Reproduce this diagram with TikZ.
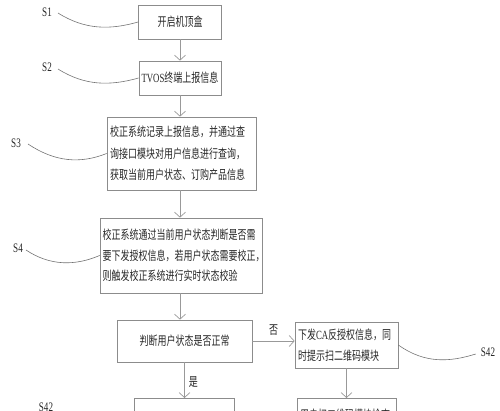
\documentclass[tikz,border=0pt]{standalone}
\usepackage{fontspec}
\setmainfont{Liberation Serif}
\newfontfamily\cjk[FakeStretch=0.72]{Noto Sans CJK SC}
\newfontfamily\lat[FakeStretch=0.7]{Liberation Serif}
\usetikzlibrary{arrows.meta,calc}
\begin{document}
\begin{tikzpicture}[x=1pt,y=-1pt,
  box/.style={draw=black!45, line width=0.7pt, inner sep=0pt, text=black!85,
    font=\cjk\fontsize{12.5}{20.5}\selectfont},
  flow/.style={draw=black!40, line width=0.7pt, -{Straight Barb[length=5pt,width=11pt]}},
  lead/.style={draw=black!55, line width=0.6pt},
  lbl/.style={font=\lat\fontsize{13}{13}\selectfont, inner sep=1pt, text=black!85},
  yn/.style={font=\cjk\fontsize{12.5}{12.5}\selectfont, inner sep=0pt, text=black!85},
]
\useasboundingbox (0,0) rectangle (500,411);
\clip (0,0) rectangle (500,411);

% boxes
\node[box, minimum width=83, minimum height=34] (s1) at (180,22) {开启机顶盒};
\node[box, minimum width=82, minimum height=34] (s2) at (180,78) {{\lat TVOS}终端上报信息};
\node[box, minimum width=149, minimum height=73, align=left, text width=143,
      font=\cjk\fontsize{12.5}{21.5}\selectfont] (s3) at (181.5,153.5)
  {校正系统记录上报信息，并通过查\\询接口模块对用户信息进行查询，\\获取当前用户状态、订购产品信息};
\node[box, minimum width=162, minimum height=75, align=left, text width=157] (s4) at (181,255.5)
  {校正系统通过当前用户状态判断是否需\\要下发授权信息，若用户状态需要校正，\\则触发校正系统进行实时状态校验};
\node[box, minimum width=135, minimum height=42] (dec) at (184.5,341) {判断用户状态是否正常};
\node[box, minimum width=103, minimum height=46, align=left, text width=97] (rb) at (346.5,345)
  {下发{\lat CA}反授权信息，同\\时提示扫二维码模块};
\node[box, minimum width=100, minimum height=40, anchor=north] (bl) at (184.5,398) {};
\node[box, minimum width=99, minimum height=32, anchor=north, align=left, text width=93] (br) at (346.5,398)
  {用户扫二维码模块检查};

% step labels
\node[lbl] (l1) at (47,12) {S1};
\node[lbl] (l2) at (47,67) {S2};
\node[lbl] (l3) at (16,143) {S3};
\node[lbl] (l4) at (18,248) {S4};
\node[lbl] (l42) at (488,352) {S42};
\node[lbl] (l43) at (46,407) {S42};

% leader curves
\draw[lead] ([xshift=5pt,yshift=-1pt]l1.east) .. controls (85,30) and (110,30) .. (s1.west);
\draw[lead] ([xshift=5pt,yshift=-2pt]l2.east) .. controls (85,86) and (110,86) .. (s2.west);
\draw[lead] ([xshift=6pt,yshift=-1pt]l3.east) .. controls (55,162) and (80,164) .. (s3.west);
\draw[lead] ([xshift=2pt,yshift=-2pt]l4.east) .. controls (50,266) and (75,266) .. (s4.west);
\draw[lead] (rb.east) .. controls (425,364) and (450,362) .. ([xshift=-4pt,yshift=-2pt]l42.west);

% flow arrows
\draw[flow] (s1.south) -- (s2.north);
\draw[flow] (s2.south) -- (s3.north -| s2.south);
\draw[flow] (s3.south -| s2.south) -- (s4.north -| s2.south);
\draw[flow] (s4.south -| s2.south) -- (dec.north -| s2.south);
\draw[flow] (dec.east) -- (dec.east -| rb.west) node[yn, midway, above=5pt] (no) {否};
\draw[flow] (dec.south) -- (bl.north) node[yn, pos=0.55, right=4pt] (yes) {是};
\draw[flow] (rb.south) -- (br.north);
\end{tikzpicture}
\end{document}
